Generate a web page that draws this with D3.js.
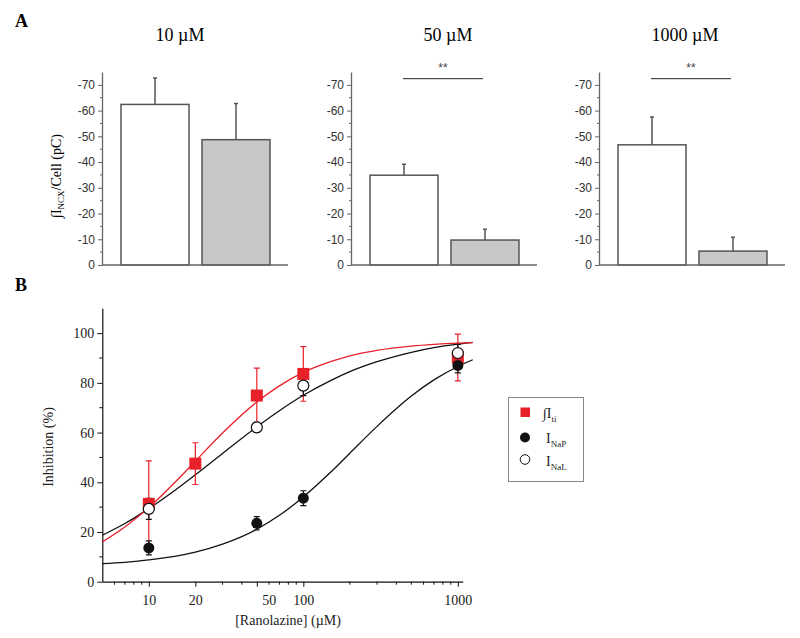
<!DOCTYPE html>
<html>
<head>
<meta charset="utf-8">
<script src="https://cdn.jsdelivr.net/npm/d3@7"></script>
<style>
  body { margin: 0; background: #fff; }
  svg { display: block; }
</style>
</head>
<body>
<script>
// panel A: integrated NCX charge per cell, control vs ranolazine
var concLabels  = ["10 µM", "50 µM", "1000 µM"];
var controlMean = [-62.4, -34.9, -46.7];
var controlErr  = [10.3, 4.3, 10.8];
var ranoMean    = [-48.7, -9.7, -5.4];
var ranoErr     = [14.1, 4.2, 5.4];
var signif      = ["", "**", "**"];
var chargeTicks = [0, -10, -20, -30, -40, -50, -60, -70];

// panel B: inhibition (%) vs [ranolazine]
var tiDose  = [10, 20, 50, 100, 1000];
var tiMean  = [31.3, 47.5, 74.9, 83.6, 90.2];
var tiErr   = [17.3, 8.4, 11.0, 11.0, 9.4];
var napDose = [10, 50, 100, 1000];
var napMean = [13.6, 23.5, 33.6, 87.0];
var napErr  = [2.8, 2.7, 3.0, 3.0];
var nalDose = [10, 50, 100, 1000];
var nalMean = [29.3, 62.1, 78.9, 92.0];
var nalErr  = [4.2, 2.0, 4.0, 3.5];
var doseTicks  = [10, 20, 50, 100, 1000];
var inhibTicks = [0, 20, 40, 60, 80, 100];

// fitted curves
var fitDose = [5, 7, 10, 15, 20, 30, 50, 70, 100, 150, 200, 300, 500, 700, 1000, 1250];
var tiFit   = [16.0, 22.0, 29.8, 40.4, 48.5, 59.8, 72.3, 78.8, 84.2, 88.5, 90.9, 93.1, 94.8, 95.5, 96.0, 96.2];
var nalFit  = [18.7, 23.4, 29.4, 37.1, 43.0, 51.6, 62.3, 68.8, 75.0, 80.9, 84.5, 88.5, 92.3, 94.2, 95.6, 96.3];
var napFit  = [7.3, 7.8, 8.8, 10.3, 11.9, 15.1, 21.1, 26.7, 34.1, 44.0, 51.7, 62.5, 74.7, 81.2, 86.6, 89.3];

var serif = "'Liberation Serif', 'Times New Roman', serif";
var sans = "'Liberation Sans', Arial, sans-serif";

var svg = d3.select("body").append("svg")
  .attr("width", 800)
  .attr("height", 638);

svg.append("text").attr("x", 15).attr("y", 27).text("A")
  .style("font-family", serif).style("font-size", "18px").style("font-weight", "bold");
svg.append("text").attr("x", 15).attr("y", 291).text("B")
  .style("font-family", serif).style("font-size", "18px").style("font-weight", "bold");

// ---------- panel A ----------
var axisX = [102, 351, 599];
var titleX = [180, 448, 685];

var y = d3.scaleLinear().domain([0, -75]).range([265, 72]);
var x = d3.scaleBand().domain(["control", "rano"]).range([19, 168]).paddingInner(0.16);

concLabels.forEach(function(lab, i) {
  var g = svg.append("g").attr("transform", "translate(" + axisX[i] + ",0)");
  var bars = [
    {k: "control", v: controlMean[i], e: controlErr[i], fill: "#fff"},
    {k: "rano", v: ranoMean[i], e: ranoErr[i], fill: "#c8c8c8"}
  ];

  g.selectAll(".bar").data(bars).enter().append("rect")
    .attr("x", function(d) { return x(d.k); })
    .attr("y", function(d) { return y(d.v); })
    .attr("width", x.bandwidth())
    .attr("height", function(d) { return y(0) - y(d.v); })
    .attr("fill", function(d) { return d.fill; })
    .attr("stroke", "#555")
    .attr("stroke-width", 1.5);

  g.selectAll(".err").data(bars).enter().append("path")
    .attr("d", function(d) {
      var cx = x(d.k) + x.bandwidth() / 2, y1 = y(d.v), y2 = y(d.v - d.e);
      return "M" + cx + "," + y1 + "V" + y2 + "M" + (cx - 2) + "," + y2 + "H" + (cx + 2);
    })
    .attr("stroke", "#555")
    .attr("stroke-width", 1.5)
    .attr("fill", "none");

  // minor ticks
  g.selectAll(".minor").data([-5, -15, -25, -35, -45, -55, -65]).enter().append("line")
    .attr("x1", -2).attr("x2", 0)
    .attr("y1", function(d) { return y(d); }).attr("y2", function(d) { return y(d); })
    .attr("stroke", "#666");

  var ax = g.append("g").call(d3.axisLeft(y).tickValues(chargeTicks).tickSize(4).tickSizeOuter(0)
    .tickFormat(function(d) { return String(d); }));
  ax.select(".domain").attr("stroke", "#666").attr("stroke-width", 1.3);
  ax.selectAll(".tick line").attr("stroke", "#666");
  ax.selectAll(".tick text").style("font-family", sans).style("font-size", "12px").attr("fill", "#333");

  g.append("line").attr("x1", 0).attr("x2", 186).attr("y1", y(0)).attr("y2", y(0))
    .attr("stroke", "#666").attr("stroke-width", 1.3);

  svg.append("text").attr("x", titleX[i]).attr("y", 41).attr("text-anchor", "middle")
    .text(lab).style("font-family", serif).style("font-size", "18px");

  if (signif[i]) {
    g.append("line").attr("x1", 52).attr("x2", 132).attr("y1", 78.7).attr("y2", 78.7)
      .attr("stroke", "#222").attr("stroke-width", 1);
    g.append("text").attr("x", 92).attr("y", 72).attr("text-anchor", "middle")
      .text(signif[i]).style("font-family", sans).style("font-size", "12px").attr("fill", "#444");
  }
});

var yl = svg.append("text")
  .attr("transform", "translate(61,176) rotate(-90)")
  .attr("text-anchor", "middle")
  .style("font-family", serif).style("font-size", "14px");
yl.append("tspan").text("∫I");
yl.append("tspan").attr("dy", 3).style("font-size", "9px").text("NCX");
yl.append("tspan").attr("dy", -3).text("/Cell (pC)");

// ---------- panel B ----------
var xs = d3.scaleLog().domain([5, 1075]).range([102.3, 462.7]);
var ys = d3.scaleLinear().domain([0, 110]).range([581.7, 308.3]);
var gb = svg.append("g");

var minorX = xs.ticks().filter(function(d) { return doseTicks.indexOf(d) < 0 && d > 5; });
gb.selectAll(".mx").data(minorX).enter().append("line")
  .attr("x1", function(d) { return xs(d); }).attr("x2", function(d) { return xs(d); })
  .attr("y1", ys(0)).attr("y2", ys(0) + 3)
  .attr("stroke", "#111");
gb.selectAll(".my").data([10, 30, 50, 70, 90]).enter().append("line")
  .attr("x1", xs(5) - 3).attr("x2", xs(5))
  .attr("y1", function(d) { return ys(d); }).attr("y2", function(d) { return ys(d); })
  .attr("stroke", "#111");

var xa = gb.append("g").attr("transform", "translate(0," + ys(0) + ")")
  .call(d3.axisBottom(xs).tickValues(doseTicks).tickFormat(d3.format("d")).tickSize(5).tickSizeOuter(0));
xa.selectAll(".tick text").style("font-family", serif).style("font-size", "14px").attr("dy", "1.1em")
  .attr("dx", function(d) { return d === 50 ? 12 : 0; });
var ya = gb.append("g").attr("transform", "translate(" + xs(5) + ",0)")
  .call(d3.axisLeft(ys).tickValues(inhibTicks).tickSize(5).tickSizeOuter(0));
ya.selectAll(".tick text").style("font-family", serif).style("font-size", "14px");
[xa, ya].forEach(function(a) {
  a.select(".domain").attr("stroke", "#111").attr("stroke-width", 1.2);
  a.selectAll(".tick line").attr("stroke", "#111");
  a.selectAll(".tick text").attr("fill", "#222");
});

svg.append("text").attr("transform", "translate(53,447) rotate(-90)").attr("text-anchor", "middle")
  .text("Inhibition (%)").style("font-family", serif).style("font-size", "14px").attr("fill", "#222");
svg.append("text").attr("x", 288).attr("y", 625).attr("text-anchor", "middle")
  .text("[Ranolazine] (µM)").style("font-family", serif).style("font-size", "14px").attr("fill", "#222");

var line = d3.line()
  .x(function(d) { return xs(d[0]); })
  .y(function(d) { return ys(d[1]); })
  .curve(d3.curveMonotoneX);

[[napFit, "#111"], [nalFit, "#111"], [tiFit, "#e8202a"]].forEach(function(f) {
  gb.append("path").datum(d3.zip(fitDose, f[0])).attr("d", line)
    .attr("fill", "none").attr("stroke", f[1]).attr("stroke-width", 1.3);
});

function errBars(dose, mean, err, color) {
  gb.selectAll(null).data(d3.zip(dose, mean, err)).enter().append("path")
    .attr("d", function(d) {
      var cx = xs(d[0]), t = ys(d[1] + d[2]), b = ys(d[1] - d[2]);
      return "M" + cx + "," + t + "V" + b +
        "M" + (cx - 3) + "," + t + "H" + (cx + 3) +
        "M" + (cx - 3) + "," + b + "H" + (cx + 3);
    })
    .attr("stroke", color).attr("stroke-width", 1.2).attr("fill", "none");
}
errBars(tiDose, tiMean, tiErr, "#e8202a");
errBars(napDose, napMean, napErr, "#111");
errBars(nalDose, nalMean, nalErr, "#111");

gb.selectAll(".sq").data(d3.zip(tiDose, tiMean)).enter().append("rect")
  .attr("x", function(d) { return xs(d[0]) - 6; })
  .attr("y", function(d) { return ys(d[1]) - 6; })
  .attr("width", 12).attr("height", 12)
  .attr("fill", "#e8202a");
gb.selectAll(".fc").data(d3.zip(napDose, napMean)).enter().append("circle")
  .attr("cx", function(d) { return xs(d[0]); })
  .attr("cy", function(d) { return ys(d[1]); })
  .attr("r", 5.5).attr("fill", "#111");
gb.selectAll(".oc").data(d3.zip(nalDose, nalMean)).enter().append("circle")
  .attr("cx", function(d) { return xs(d[0]); })
  .attr("cy", function(d) { return ys(d[1]); })
  .attr("r", 5.5).attr("fill", "#fff").attr("stroke", "#111").attr("stroke-width", 1.2);

// legend
var lg = svg.append("g");
lg.append("rect").attr("x", 508.5).attr("y", 397.5).attr("width", 75).attr("height", 84)
  .attr("fill", "none").attr("stroke", "#888").attr("stroke-width", 1);
lg.append("rect").attr("x", 520.5).attr("y", 407.5).attr("width", 9.5).attr("height", 9.5).attr("fill", "#e8202a");
lg.append("circle").attr("cx", 525).attr("cy", 437.5).attr("r", 5).attr("fill", "#111");
lg.append("circle").attr("cx", 525).attr("cy", 459.5).attr("r", 4.8).attr("fill", "#fff")
  .attr("stroke", "#111").attr("stroke-width", 1);
var legItems = [["∫I", "ti", 418], ["I", "NaP", 443], ["I", "NaL", 466]];
legItems.forEach(function(it, k) {
  var t = lg.append("text").attr("x", k === 0 ? 543 : 546).attr("y", it[2])
    .style("font-family", serif).style("font-size", "14px").attr("fill", "#222");
  t.append("tspan").text(it[0]);
  t.append("tspan").attr("dy", 4).style("font-size", "9px").text(it[1]);
});
</script>
</body>
</html>
